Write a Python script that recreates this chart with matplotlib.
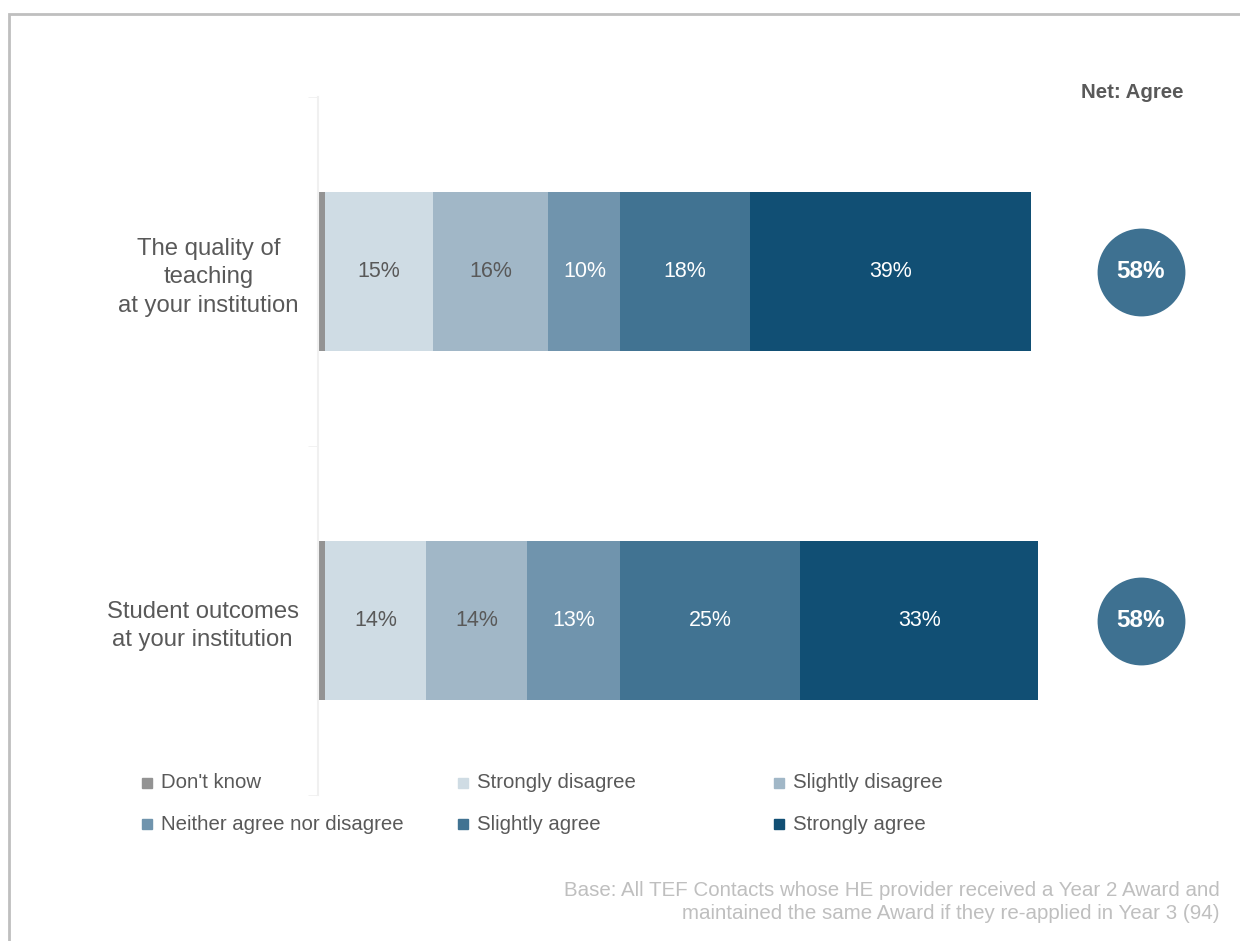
import matplotlib.pyplot as plt
from matplotlib.patches import Rectangle
import numpy as np

plt.rcParams['font.family'] = ['Liberation Sans', 'DejaVu Sans']

categories = ['The quality of\nteaching\nat your institution',
              'Student outcomes\nat your institution']
responses = ['Don\'t know', 'Strongly disagree', 'Slightly disagree',
             'Neither agree nor disagree', 'Slightly agree', 'Strongly agree']
values = np.array([
    [1, 15, 16, 10, 18, 39],
    [1, 14, 14, 13, 25, 33],
])
net_agree = [58, 58]
colors = ['#939393', '#cfdce4', '#a1b7c7', '#7094ad', '#417392', '#114f74']
label_colors = [None, '#595959', '#595959', 'white', 'white', 'white']
footnote = ('Base: All TEF Contacts whose HE provider received a Year 2 Award and\n'
            'maintained the same Award if they re-applied in Year 3 (94)')

W, H = 1240, 941
fig = plt.figure(figsize=(W / 100, H / 100), dpi=100)

def fx(px):
    return px / W

def fy(py):
    return 1 - py / H

# outer frame
fig.add_artist(Rectangle((fx(9), fy(945)), fx(1240), fy(14) - fy(945),
                         transform=fig.transFigure, fill=False,
                         edgecolor='#bfbfbf', linewidth=2))

ax = fig.add_axes([fx(318), fy(795), fx(720), fy(97) - fy(795)])
y = np.arange(len(categories))
left = np.zeros(len(categories))
for j, resp in enumerate(responses):
    ax.barh(y, values[:, j], left=left, height=0.455, color=colors[j],
            edgecolor='none')
    if label_colors[j]:
        for i in range(len(categories)):
            ax.text(left[i] + values[i, j] / 2, y[i], f'{values[i, j]}%',
                    ha='center', va='center', fontsize=15.5,
                    color=label_colors[j])
    left += values[:, j]

ax.set_xlim(0, 100)
ax.set_ylim(len(categories) - 0.5, -0.5)
ax.set_xticks([])
ax.set_yticks(y)
ax.set_yticklabels(categories, fontsize=17.2, color='#595959',
                   multialignment='center', linespacing=1.38)
ax.set_yticks([-0.5, 0.5, 1.5], minor=True)
ax.tick_params(axis='y', which='major', length=0, pad=14)
ax.tick_params(axis='y', which='minor', length=7, color='#f0f0f0')
for s in ['top', 'right', 'bottom']:
    ax.spines[s].set_visible(False)
ax.spines['left'].set_color('#f0f0f0')
ax.spines['left'].set_linewidth(1.5)

# net agree circles
net_x = (1141 - 318) / 7.2
ax.scatter([net_x] * len(categories), y, s=4000, color='#3e7191',
           clip_on=False, linewidths=0, zorder=3)
for i, v in enumerate(net_agree):
    ax.text(net_x, y[i], f'{v}%', ha='center', va='center',
            fontsize=17.5, fontweight='bold', color='white', zorder=4,
            clip_on=False)
fig.text(fx(1132), fy(93), 'Net: Agree', ha='center', va='center',
         fontsize=14.7, fontweight='bold', color='#595959')

# legend, three columns in row order
col_x = [147, 463, 779]
row_y = [783, 824]
for k, (resp, c) in enumerate(zip(responses, colors)):
    px = col_x[k % 3]
    py = row_y[k // 3]
    fig.add_artist(Rectangle((fx(px - 5), fy(py + 5)), fx(10), fy(py - 5) - fy(py + 5),
                             transform=fig.transFigure, color=c))
    fig.text(fx(px + 14), fy(py), resp, ha='left', va='center',
             fontsize=14.7, color='#595959')

fig.text(fx(1220), fy(902), footnote, ha='right', va='center',
         fontsize=14.8, color='#bfbfbf', multialignment='right',
         linespacing=1.3)

fig.savefig('out.png', dpi=100)
